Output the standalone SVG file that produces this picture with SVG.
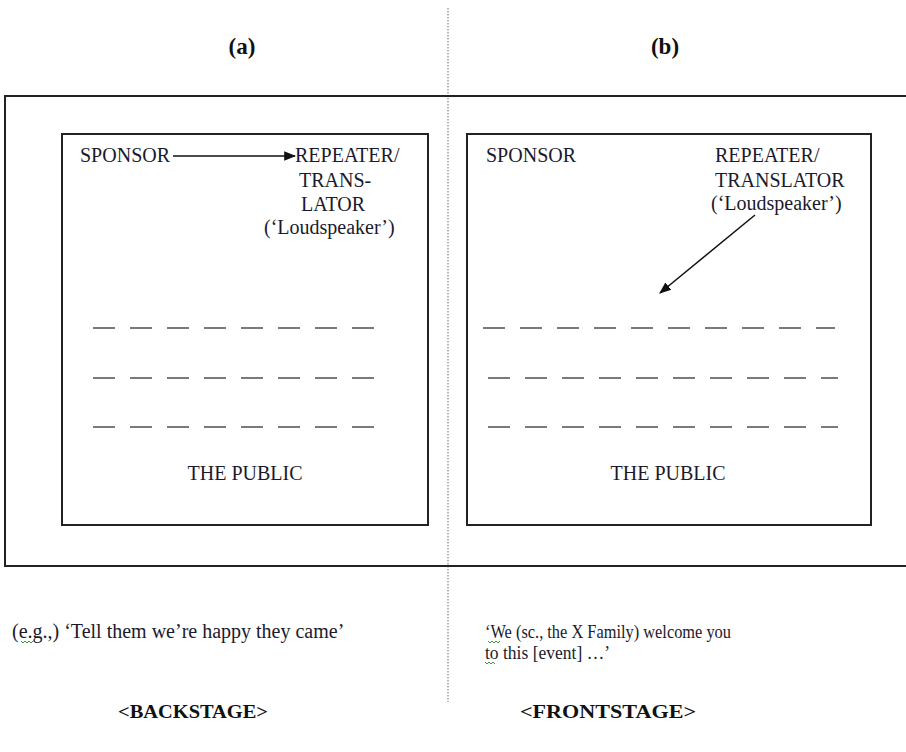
<svg xmlns="http://www.w3.org/2000/svg" width="906" height="752" viewBox="0 0 906 752">
<style>
.t{font-family:"Liberation Serif","Times New Roman",serif;font-size:20px;fill:#1a1a2c}
.c{font-size:19px}
.b{font-family:"Liberation Serif","Times New Roman",serif;font-weight:bold;fill:#111}
.box{fill:none;stroke:#222;stroke-width:2}
.dash{stroke:#7a7a7a;stroke-width:2;stroke-dasharray:22 15}
.sq{fill:none;stroke:#3a9a3a;stroke-width:1}
</style>
<defs>
<marker id="ah" viewBox="0 0 10 10" refX="9" refY="5" markerWidth="12" markerHeight="12" markerUnits="userSpaceOnUse" orient="auto">
<path d="M0,1 L10,5 L0,9 z" fill="#111"/>
</marker>
</defs>
<rect width="906" height="752" fill="#fff"/>
<line x1="448" y1="8" x2="448" y2="702" stroke="#888" stroke-width="1.2" stroke-dasharray="1.5 1.5"/>
<rect x="5" y="96" width="920" height="470" class="box"/>
<g id="panel-a">
<text class="b" x="242" y="54" font-size="23" text-anchor="middle">(a)</text>
<rect x="62" y="134" width="366" height="391" class="box"/>
<g id="sponsor-a"><text class="t" x="80" y="162">SPONSOR</text></g>
<g id="repeater-a">
<text class="t" x="295" y="162">REPEATER/</text>
<text class="t" x="299" y="187">TRANS-</text>
<text class="t" x="301" y="211">LATOR</text>
<text class="t" x="264" y="234">(‘Loudspeaker’)</text>
</g>
<g id="public-a">
<line class="dash" x1="93" y1="328" x2="378" y2="328"/>
<line class="dash" x1="93" y1="378" x2="378" y2="378"/>
<line class="dash" x1="93" y1="427" x2="378" y2="427"/>
<text class="t" x="245" y="480" text-anchor="middle">THE PUBLIC</text>
</g>
</g>
<g id="panel-b">
<text class="b" x="665" y="54" font-size="23" text-anchor="middle">(b)</text>
<rect x="467" y="134" width="404" height="391" class="box"/>
<g id="sponsor-b"><text class="t" x="486" y="162">SPONSOR</text></g>
<g id="repeater-b">
<text class="t" x="715" y="162">REPEATER/</text>
<text class="t" x="715" y="187">TRANSLATOR</text>
<text class="t" x="711" y="210">(‘Loudspeaker’)</text>
</g>
<g id="public-b">
<line class="dash" x1="483" y1="328" x2="835" y2="328"/>
<line class="dash" x1="488" y1="378" x2="838" y2="378"/>
<line class="dash" x1="488" y1="427" x2="838" y2="427"/>
<text class="t" x="668" y="480" text-anchor="middle">THE PUBLIC</text>
</g>
</g>
<g id="connectors">
<line x1="173" y1="156" x2="295" y2="156" stroke="#111" stroke-width="1.5" marker-end="url(#ah)"/>
<line x1="755" y1="215" x2="660" y2="293" stroke="#111" stroke-width="1.5" marker-end="url(#ah)"/>
</g>
<g id="captions">
<text class="t" x="12" y="638">(e.g.,) ‘Tell them we’re happy they came’</text>
<path class="sq" d="M21,641 l2,2 l2,-2 l2,2 l2,-2 l2,2 l2,-2"/>
<text class="t c" x="485" y="638" textLength="246" lengthAdjust="spacingAndGlyphs">‘We (sc., the X Family) welcome you</text>
<path class="sq" d="M488,641 l2,2 l2,-2 l2,2 l2,-2 l2,2 l2,-2"/>
<text class="t c" x="485" y="659" textLength="125" lengthAdjust="spacingAndGlyphs">to this [event] …’</text>
<path class="sq" d="M485,662 l2,2 l2,-2 l2,2 l2,-2 l2,2"/>
<text class="b" x="193" y="718" font-size="19" text-anchor="middle" textLength="150" lengthAdjust="spacingAndGlyphs">&lt;BACKSTAGE&gt;</text>
<text class="b" x="608" y="718" font-size="19" text-anchor="middle" textLength="176" lengthAdjust="spacingAndGlyphs">&lt;FRONTSTAGE&gt;</text>
</g>
</svg>
